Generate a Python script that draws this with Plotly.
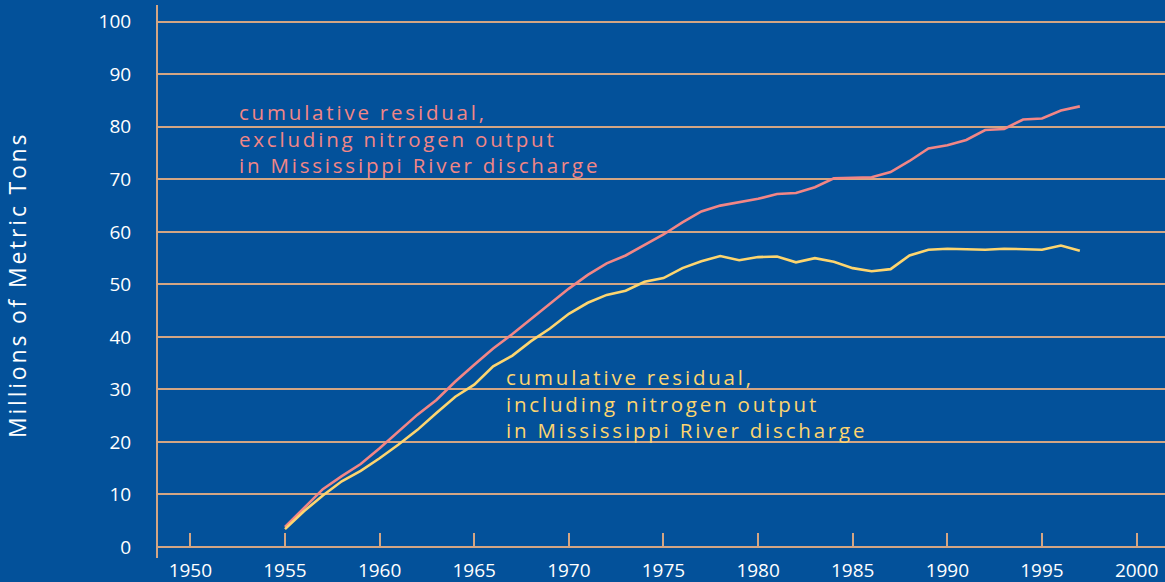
import plotly.graph_objects as go

years = list(range(1955, 1998))

excluding_output = [
    3.8, 7.5, 11.0, 13.5, 15.8, 18.8, 22.0, 25.2, 28.0, 31.5,
    34.7, 37.8, 40.5, 43.4, 46.3, 49.2, 51.8, 54.0, 55.5, 57.5,
    59.5, 61.8, 63.9, 65.0, 65.6, 66.3, 67.2, 67.4, 68.5, 70.2,
    70.3, 70.4, 71.4, 73.5, 75.9, 76.5, 77.5, 79.4, 79.6, 81.4,
    81.6, 83.1, 83.9,
]

including_output = [
    3.4, 6.8, 9.8, 12.5, 14.5, 16.9, 19.5, 22.3, 25.5, 28.6,
    30.9, 34.4, 36.4, 39.2, 41.6, 44.4, 46.5, 48.0, 48.8, 50.5,
    51.2, 53.1, 54.4, 55.4, 54.6, 55.2, 55.3, 54.2, 55.0, 54.3,
    53.1, 52.5, 52.9, 55.5, 56.6, 56.8, 56.7, 56.6, 56.8, 56.7,
    56.6, 57.4, 56.4,
]

x_ticks = [1950, 1955, 1960, 1965, 1970, 1975, 1980, 1985, 1990, 1995, 2000]
y_ticks = [0, 10, 20, 30, 40, 50, 60, 70, 80, 90, 100]

label_excl = "cumulative residual,<br>excluding nitrogen output<br>in Mississippi River discharge"
label_incl = "cumulative residual,<br>including nitrogen output<br>in Mississippi River discharge"
y_title = "Millions of Metric Tons"

BG = "#03519a"
GRID = "#d3a584"
RED = "#f28686"
YEL = "#fdd56f"
FONT = "Open Sans"

fig = go.Figure()
fig.add_trace(go.Scatter(x=years, y=excluding_output, mode="lines",
                         line=dict(color=RED, width=2.6), hoverinfo="skip"))
fig.add_trace(go.Scatter(x=years, y=including_output, mode="lines",
                         line=dict(color=YEL, width=2.6), hoverinfo="skip"))

fig.add_annotation(x=1952.48, y=77.7, xref="x", yref="y", text=label_excl,
                   showarrow=False, xanchor="left", yanchor="middle", align="left",
                   font=dict(family=FONT, size=20.5, color=RED))
fig.add_annotation(x=1966.59, y=27.3, xref="x", yref="y", text=label_incl,
                   showarrow=False, xanchor="left", yanchor="middle", align="left",
                   font=dict(family=FONT, size=20.5, color=YEL))

fig.add_annotation(x=-0.14, y=0.494, xref="paper", yref="paper", text=y_title,
                   showarrow=False, textangle=-90, xanchor="center", yanchor="middle",
                   font=dict(family=FONT, size=23, color="white"))

fig.update_layout(
    width=1165, height=582,
    paper_bgcolor=BG, plot_bgcolor=BG,
    margin=dict(l=158, r=0, t=5, b=24),
    showlegend=False,
    font=dict(family=FONT, color="white"),
    xaxis=dict(
        range=[1948.29, 2001.5], automargin=False,
        tickvals=x_ticks, ticktext=[str(t) for t in x_ticks],
        showgrid=False, zeroline=False,
        anchor="free", position=(558 - 547) / 553,
        showline=True, linecolor=GRID, linewidth=2,
        ticks="inside", ticklen=13, tickwidth=2, tickcolor=GRID,
        tickfont=dict(family=FONT, size=19, color="white"),
        ticklabelstandoff=6,
    ),
    yaxis=dict(
        range=[-2.1, 103.2], automargin=False,
        tickvals=y_ticks, ticktext=[str(t) for t in y_ticks],
        showgrid=True, gridcolor=GRID, gridwidth=2,
        zeroline=False,
        showline=True, linecolor=GRID, linewidth=2,
        ticks="", tickfont=dict(family=FONT, size=19, color="white"),
        ticklabelstandoff=21,
    ),
)

post = """
document.body.style.margin = '0';
document.body.style.padding = '0';
document.body.style.background = '#03519a';
var gd = document.getElementById('{plot_id}');
function spaceText() {
  gd.querySelectorAll('.annotation-text').forEach(function (t) {
    t.style.letterSpacing = '2.8px';
  });
}
spaceText();
setTimeout(spaceText, 50);
if (gd.on) { gd.on('plotly_afterplot', spaceText); }
"""

fig.write_html("out.html", post_script=post, config={"displayModeBar": False})
